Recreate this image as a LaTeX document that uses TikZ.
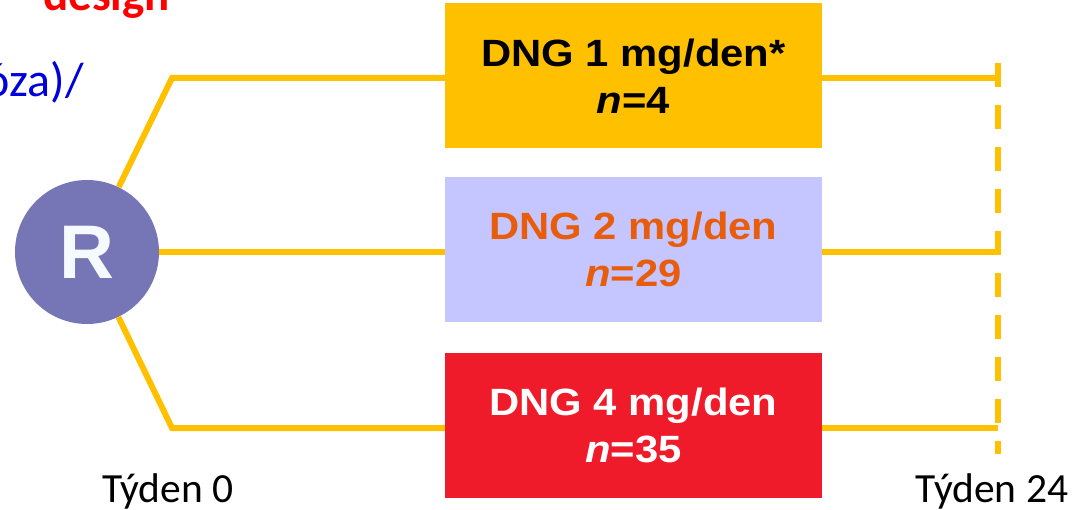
\documentclass[tikz,border=0pt]{standalone}
\usepackage{fontspec}
\setmainfont{Liberation Sans}
\newfontfamily\boxfont{Liberation Sans}[FakeStretch=1.1]
\newfontfamily\calfont{Carlito}
\definecolor{armcol}{RGB}{255,192,0}
\definecolor{box1col}{RGB}{255,192,0}
\definecolor{box2col}{RGB}{197,197,255}
\definecolor{box3col}{RGB}{240,27,42}
\definecolor{txt2col}{RGB}{232,93,12}
\definecolor{rcol}{RGB}{118,118,183}
\definecolor{bluetxt}{RGB}{0,0,220}
\definecolor{redtxt}{RGB}{255,0,0}
\begin{document}
\begin{tikzpicture}[x=1pt,y=-1pt,
  armline/.style={draw=armcol,line width=6pt},
  dashline/.style={draw=armcol,line width=6pt,dash pattern=on 24pt off 18pt},
  dosebox/.style={rectangle,minimum width=377pt,minimum height=145pt,inner sep=0pt,align=center,
     font=\boxfont\bfseries\fontsize{38}{47}\selectfont},
  weeklabel/.style={anchor=base,inner sep=0pt,font=\calfont\fontsize{41.5}{48}\selectfont}]
\useasboundingbox (0,0) rectangle (1076,510);
% header fragments
\node[anchor=base east,inner sep=0pt,text=redtxt,font=\calfont\bfseries\fontsize{47}{56}\selectfont] (hdr) at (170,11) {y – design};
\node[anchor=base east,inner sep=0pt,text=bluetxt,font=\calfont\fontsize{48}{58}\selectfont] (sub) at (84,97) {óza)/};
% randomisation circle
\node[circle,fill=rcol,minimum size=144pt,inner sep=0pt,text={rgb,255:red,245;green,250;blue,255},
  font=\bfseries\fontsize{76}{86}\selectfont] (R) at (87,252) {R};
% boxes
\node[dosebox,fill=box1col,text=black] (b1) at (633.5,76) {DNG 1 mg/den*\\{\itshape n}=4};
\node[dosebox,fill=box2col,text=txt2col] (b2) at (633.5,249.5) {DNG 2 mg/den\\{\itshape n}=29};
\node[dosebox,fill=box3col,text=white] (b3) at (633.5,425.5) {DNG 4 mg/den\\{\itshape n}=35};
% arm coordinates
\coordinate (t1) at (172,78);
\coordinate (t3) at (172,428);
\coordinate (e1) at (998,78);
\coordinate (e2) at (998,252);
\coordinate (e3) at (998,428);
\coordinate (dtop) at (998,63);
\coordinate (dbot) at (998,454);
% arms left
\draw[armline] (R) -- (t1) -- (t1 -| b1.west);
\draw[armline] (R) -- (R -| b2.west);
\draw[armline] (R) -- (t3) -- (t3 -| b3.west);
% arms right
\draw[armline] (b1.east |- e1) -- (e1);
\draw[armline] (b2.east |- e2) -- (e2);
\draw[armline] (b3.east |- e3) -- (e3);
\draw[dashline] (dtop) -- (dbot);
% week labels
\node[weeklabel] (w0) at (168,502) {Týden 0};
\node[weeklabel] (w24) at (992,502) {Týden 24};
\end{tikzpicture}
\end{document}
